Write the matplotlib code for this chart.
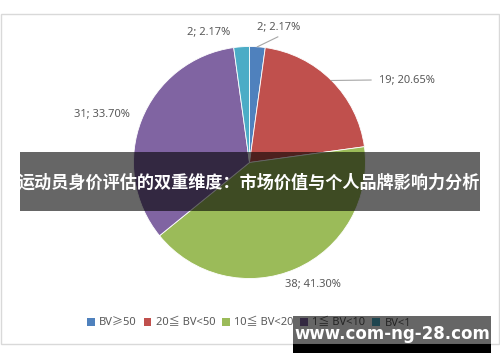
import matplotlib
matplotlib.use("Agg")
import matplotlib.pyplot as plt
from matplotlib.patches import Rectangle, Patch
import numpy as np

plt.rcParams['font.family'] = ['Noto Sans', 'Noto Sans CJK SC', 'DejaVu Sans']

# ---- data ----
categories = ["BV≥50", "20≦ BV<50", "10≦ BV<20", "1≦ BV<10", "BV<1"]
counts = [2, 19, 38, 31, 2]
percents = [2.17, 20.65, 41.30, 33.70, 2.17]
colors = ["#4f81bd", "#c0504d", "#9bbb59", "#8064a2", "#4bacc6"]
banner_text = "运动员身价评估的双重维度：市场价值与个人品牌影响力分析"
watermark = "www.com-ng-28.com"

# label placement in pie units (radius = 1), and which labels get a leader line
label_pos = [(0.254, 1.168), (1.358, 0.711), (0.547, -1.047), (-1.272, 0.418), (-0.349, 1.125)]
leader = [True, True, False, False, False]

W, H = 500, 362
fig = plt.figure(figsize=(W / 100, H / 100), dpi=100)

# chart frame
bg = fig.add_axes([0, 0, 1, 1], zorder=-1)
bg.set_xlim(0, W); bg.set_ylim(H, 0); bg.axis("off")
bg.add_patch(Rectangle((1, 14), 498, 330, fill=False, ec="#d9d9d9", lw=1))

# pie
cx, cy, r = 249.5, 162.5, 116
ax = fig.add_axes([(cx - r) / W, (H - cy - r) / H, 2 * r / W, 2 * r / H])
wedges, _ = ax.pie(counts, colors=colors, startangle=90, counterclock=False,
                   radius=1, wedgeprops=dict(edgecolor="white", linewidth=0.6))
ax.set_xlim(-1, 1); ax.set_ylim(-1, 1)
ax.set_aspect("equal")

for w, c, p, (lx, ly), ld in zip(wedges, counts, percents, label_pos, leader):
    ax.text(lx, ly, f"{c}; {p:.2f}%", ha="center", va="center", fontsize=8,
            color="#595959", clip_on=False)
    if ld:
        mid = np.deg2rad((w.theta1 + w.theta2) / 2)
        x0, y0 = np.cos(mid), np.sin(mid)
        if ly < 1.0:
            ax.plot([x0, lx - 0.31], [y0, ly], color="#a6a6a6", lw=0.8, clip_on=False)
        else:
            ax.plot([x0, lx - 0.01], [y0, ly - 0.085], color="#a6a6a6", lw=0.8, clip_on=False)

handles = [Patch(facecolor=c, edgecolor="none") for c in colors]
fig.legend(handles, categories, loc="center", bbox_to_anchor=(249 / W, 1 - 323 / H),
           ncol=5, frameon=False, fontsize=8, labelcolor="#595959",
           handlelength=0.7, handleheight=0.7, handletextpad=0.4, columnspacing=0.6)

# overlays: banner + watermark
ov = fig.add_axes([0, 0, 1, 1], zorder=10)
ov.set_xlim(0, W); ov.set_ylim(H, 0); ov.axis("off"); ov.patch.set_visible(False)
ov.add_patch(Rectangle((20, 152), 460, 59, color="black", alpha=0.6, lw=0))
ov.text(249, 183, banner_text, ha="center", va="center", color="white", fontsize=12.3,
        fontweight="bold", family=["Noto Sans CJK SC", "DejaVu Sans"])
ov.add_patch(Rectangle((293, 316), 198, 27.5, color="black", alpha=0.6, lw=0))
ov.add_patch(Rectangle((293, 343.5), 198, 9.5, color="black", lw=0))
ov.text(392, 334, watermark, ha="center", va="center", color="white", fontsize=12,
        fontweight="bold", family="DejaVu Sans")

fig.savefig("out.png", dpi=100)
